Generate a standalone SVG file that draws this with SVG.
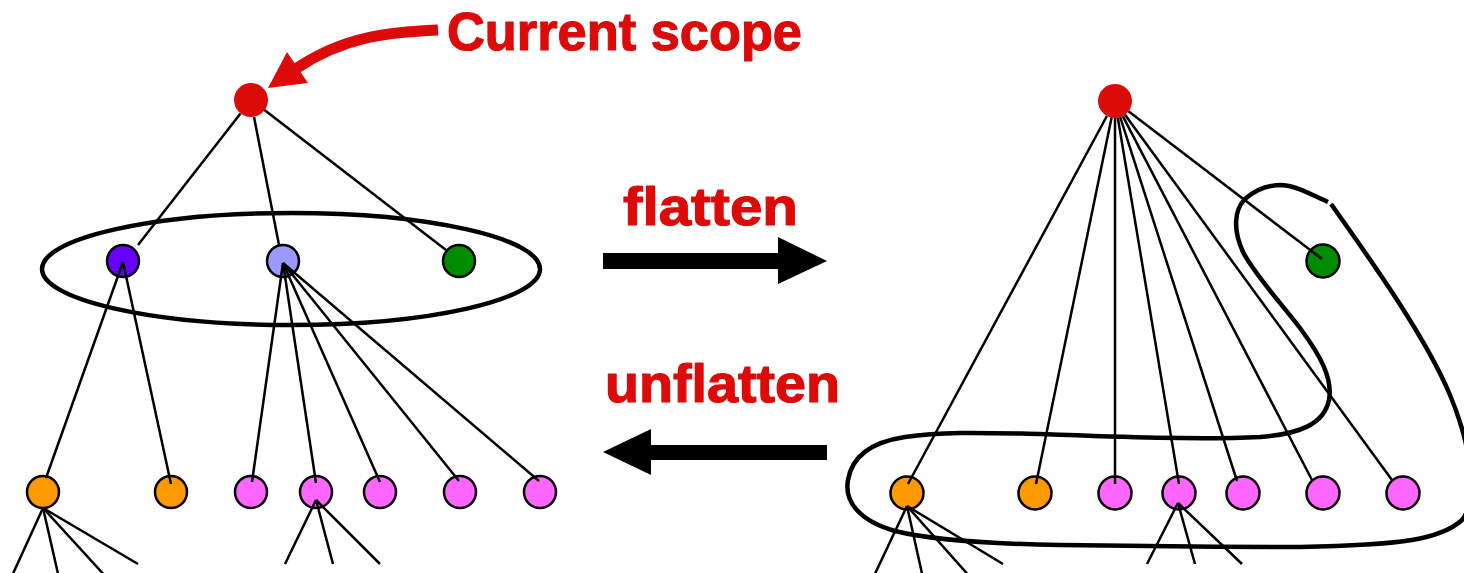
<svg xmlns="http://www.w3.org/2000/svg" width="1464" height="573" viewBox="0 0 1464 573">
<style>
.lbl{font-family:"Comic Sans MS","Liberation Sans","DejaVu Sans",sans-serif;font-weight:bold;font-size:54px;fill:#dd0a0a;stroke:#dd0a0a;stroke-width:1.2;stroke-linejoin:round}
.n{stroke:#000;stroke-width:2.5}
.root{fill:#dd0a0a}
.purple{fill:#6600ff}
.lav{fill:#9999ff}
.green{fill:#008c00}
.orange{fill:#ff9900}
.pink{fill:#ff66ff}
.e line{stroke:#000;stroke-width:2.5;stroke-linecap:butt}
.loop{fill:none;stroke:#000;stroke-width:4.5}
</style>
<rect width="1464" height="573" fill="#fff"/>

<!-- left tree nodes -->
<g id="left-root"><circle class="root" cx="251" cy="100" r="17"/></g>
<g id="left-purple"><circle class="n purple" cx="123" cy="261" r="16"/></g>
<g id="left-lavender"><circle class="n lav" cx="283" cy="261" r="16"/></g>
<g id="left-green"><circle class="n green" cx="459" cy="261" r="16"/></g>
<g id="left-orange1"><circle class="n orange" cx="43" cy="492" r="16"/></g>
<g id="left-orange2"><circle class="n orange" cx="171" cy="492" r="16"/></g>
<g id="left-pink1"><circle class="n pink" cx="251" cy="492" r="16"/></g>
<g id="left-pink2"><circle class="n pink" cx="316" cy="492" r="16"/></g>
<g id="left-pink3"><circle class="n pink" cx="380" cy="492" r="16"/></g>
<g id="left-pink4"><circle class="n pink" cx="460" cy="492" r="16"/></g>
<g id="left-pink5"><circle class="n pink" cx="540" cy="492" r="16"/></g>

<!-- scope ellipse -->
<g id="left-scope"><ellipse class="loop" cx="291" cy="269" rx="249" ry="56"/></g>

<!-- right tree nodes -->
<g id="right-root"><circle class="root" cx="1115" cy="101" r="17"/></g>
<g id="right-green"><circle class="n green" cx="1323" cy="261" r="16.5"/></g>
<g id="right-orange1"><circle class="n orange" cx="907" cy="493" r="16.5"/></g>
<g id="right-orange2"><circle class="n orange" cx="1035" cy="493" r="16.5"/></g>
<g id="right-pink1"><circle class="n pink" cx="1115" cy="493" r="16.5"/></g>
<g id="right-pink2"><circle class="n pink" cx="1179" cy="493" r="16.5"/></g>
<g id="right-pink3"><circle class="n pink" cx="1243" cy="493" r="16.5"/></g>
<g id="right-pink4"><circle class="n pink" cx="1323" cy="493" r="16.5"/></g>
<g id="right-pink5"><circle class="n pink" cx="1403" cy="493" r="16.5"/></g>

<!-- flattened scope loop -->
<g id="right-scope">
<path class="loop" d="M1331,204 C1365,252 1425,335 1450,395 C1472,448 1478,500 1462,520 C1440,540 1400,545 1300,547 C1220,547 1120,546 1060,545 C1000,544 935,541 895,531 C860,521 844,502 848,480 C852,456 872,442 905,437 C945,431 990,433 1040,434 C1120,437 1200,440 1260,437 C1300,434 1324,424 1329,400 C1333,378 1320,355 1300,328 C1280,302 1255,275 1243,252 C1233,230 1234,210 1245,199 C1255,190 1268,185 1282,185 C1297,186 1312,195 1328,202"/>
</g>

<!-- connectors -->
<g id="connectors" class="e">
<!-- left root -->
<line x1="240.5" y1="113.4" x2="138" y2="245"/>
<line x1="254" y1="117" x2="279" y2="245"/>
<line x1="264.5" y1="110" x2="446" y2="250"/>
<!-- purple -->
<line x1="123" y1="262" x2="46" y2="478"/>
<line x1="123" y1="262" x2="171" y2="484"/>
<!-- lavender -->
<line x1="283" y1="263" x2="252" y2="482"/>
<line x1="283" y1="263" x2="316" y2="483"/>
<line x1="283" y1="263" x2="380" y2="482"/>
<line x1="283" y1="263" x2="459" y2="481"/>
<line x1="283" y1="263" x2="539" y2="481"/>
<!-- left bottom children -->
<line x1="43" y1="508" x2="11" y2="578"/>
<line x1="43" y1="508" x2="59" y2="578"/>
<line x1="43" y1="508" x2="107" y2="578"/>
<line x1="43" y1="508" x2="138" y2="564"/>
<line x1="316" y1="500" x2="285" y2="564"/>
<line x1="316" y1="500" x2="333" y2="564"/>
<line x1="316" y1="500" x2="380" y2="564"/>
<!-- right root -->
<line x1="1106.9" y1="116" x2="908" y2="484"/>
<line x1="1111.6" y1="117.6" x2="1036" y2="484"/>
<line x1="1115" y1="118" x2="1115" y2="484"/>
<line x1="1117.8" y1="117.8" x2="1179" y2="484"/>
<line x1="1120.2" y1="117.2" x2="1237" y2="481"/>
<line x1="1122.8" y1="116.1" x2="1312" y2="480"/>
<line x1="1125" y1="114.7" x2="1392" y2="480"/>
<line x1="1128.5" y1="111.3" x2="1322" y2="259"/>
<!-- right bottom children -->
<line x1="907" y1="506" x2="873" y2="578"/>
<line x1="907" y1="506" x2="923" y2="578"/>
<line x1="907" y1="506" x2="971" y2="578"/>
<line x1="907" y1="506" x2="1003" y2="564"/>
<line x1="1178" y1="503" x2="1147" y2="564"/>
<line x1="1178" y1="503" x2="1195" y2="564"/>
<line x1="1178" y1="503" x2="1242" y2="564"/>
</g>

<!-- current scope pointer -->
<g id="current-scope">
<path d="M438,30 C390,32 345,36 297,68" fill="none" stroke="#dd0a0a" stroke-width="11"/>
<polygon points="287,52 308,83 268,88" fill="#dd0a0a"/>
<text class="lbl" x="447" y="50" textLength="355" lengthAdjust="spacingAndGlyphs">Current scope</text>
</g>

<!-- flatten arrow -->
<g id="flatten">
<text class="lbl" x="623" y="225" textLength="175" lengthAdjust="spacingAndGlyphs">flatten</text>
<rect x="603" y="253" width="177" height="16" fill="#000"/>
<polygon points="778,237 827,261 778,284" fill="#000"/>
</g>

<!-- unflatten arrow -->
<g id="unflatten">
<text class="lbl" x="605" y="402" textLength="235" lengthAdjust="spacingAndGlyphs">unflatten</text>
<rect x="649" y="445" width="178" height="15" fill="#000"/>
<polygon points="603,452 651,429 651,475" fill="#000"/>
</g>
</svg>
